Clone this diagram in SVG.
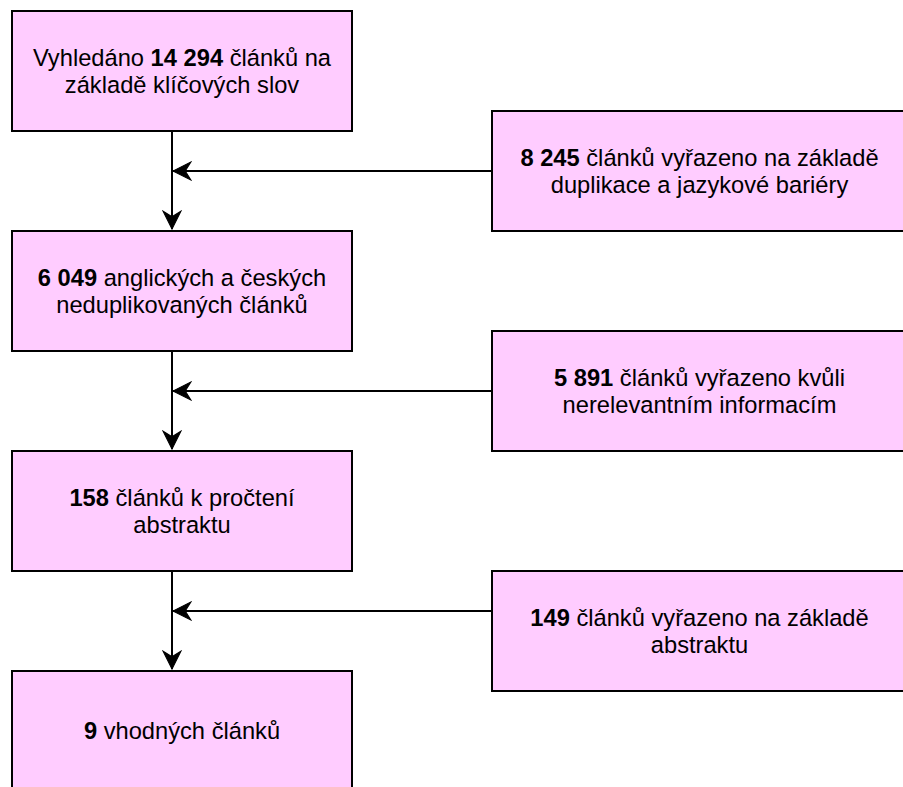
<svg xmlns="http://www.w3.org/2000/svg" width="903" height="787" viewBox="0 0 903 787">
<style>
.box{fill:#FFCCFF;stroke:#000;stroke-width:2}
.t{font-family:"Liberation Sans",Arial,Helvetica,sans-serif;font-size:23.7px;fill:#000;text-anchor:middle}
.b{font-weight:bold}
.ln{fill:none;stroke:#000;stroke-width:2}
</style>
<defs>
<marker id="arr" markerUnits="userSpaceOnUse" markerWidth="20" markerHeight="20" viewBox="-17 -9 18 18" refX="0" refY="0" orient="auto">
<path d="M0,0 L-16,-8 L-11,0 L-16,8 Z" fill="#000" stroke="#000" stroke-width="1"/>
</marker>
</defs>
<rect width="903" height="787" fill="#fff"/>
<g id="connectors">
<line class="ln" x1="172" y1="131" x2="172" y2="229" marker-end="url(#arr)"/>
<line class="ln" x1="492" y1="171" x2="173" y2="171" marker-end="url(#arr)"/>
<line class="ln" x1="172" y1="351" x2="172" y2="449" marker-end="url(#arr)"/>
<line class="ln" x1="492" y1="391" x2="173" y2="391" marker-end="url(#arr)"/>
<line class="ln" x1="172" y1="571" x2="172" y2="669" marker-end="url(#arr)"/>
<line class="ln" x1="492" y1="611" x2="173" y2="611" marker-end="url(#arr)"/>
</g>
<g id="n1">
<rect class="box" x="12" y="11" width="340" height="120"/>
<text class="t" x="182" y="66">Vyhledáno <tspan class="b">14 294</tspan> článků na</text>
<text class="t" x="182" y="93">základě klíčových slov</text>
</g>
<g id="n2">
<rect class="box" x="492" y="111" width="420" height="120"/>
<text class="t" x="699.5" y="166"><tspan class="b">8 245</tspan> článků vyřazeno na základě</text>
<text class="t" x="699.5" y="193">duplikace a jazykové bariéry</text>
</g>
<g id="n3">
<rect class="box" x="12" y="231" width="340" height="120"/>
<text class="t" x="182" y="286"><tspan class="b">6 049</tspan> anglických a českých</text>
<text class="t" x="182" y="313">neduplikovaných článků</text>
</g>
<g id="n4">
<rect class="box" x="492" y="331" width="420" height="120"/>
<text class="t" x="699.5" y="386"><tspan class="b">5 891</tspan> článků vyřazeno kvůli</text>
<text class="t" x="699.5" y="413">nerelevantním informacím</text>
</g>
<g id="n5">
<rect class="box" x="12" y="451" width="340" height="120"/>
<text class="t" x="182" y="506"><tspan class="b">158</tspan> článků k pročtení</text>
<text class="t" x="182" y="533">abstraktu</text>
</g>
<g id="n6">
<rect class="box" x="492" y="571" width="420" height="120"/>
<text class="t" x="699.5" y="626"><tspan class="b">149</tspan> článků vyřazeno na základě</text>
<text class="t" x="699.5" y="653">abstraktu</text>
</g>
<g id="n7">
<rect class="box" x="12" y="671" width="340" height="130"/>
<text class="t" x="182" y="739"><tspan class="b">9</tspan> vhodných článků</text>
</g>
</svg>
